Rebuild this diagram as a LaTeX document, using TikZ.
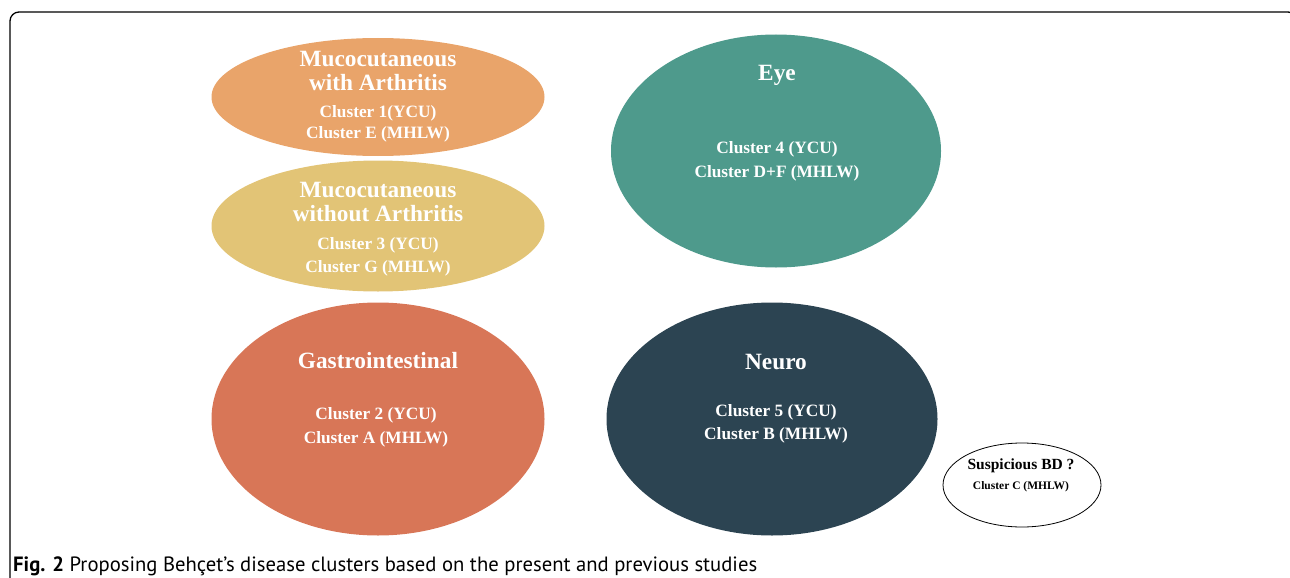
\documentclass[tikz,border=0pt]{standalone}
\usepackage{fontspec}
\setmainfont{Liberation Serif}
\newfontfamily\capfont{PT Sans}
\usetikzlibrary{shapes.geometric}
\definecolor{cOrange}{HTML}{E9A46A}
\definecolor{cYellow}{HTML}{E2C476}
\definecolor{cTeal}{HTML}{4E9A8C}
\definecolor{cGastro}{HTML}{D87657}
\definecolor{cNeuro}{HTML}{2C4452}
\tikzset{
  blob/.style={ellipse, inner sep=0pt, draw=none},
  ttl/.style={text=white, font=\bfseries\fontsize{23.3}{24}\selectfont, align=center, inner sep=0pt},
  clu/.style={text=white, font=\bfseries\fontsize{17.3}{23}\selectfont, align=center, inner sep=0pt},
}
\begin{document}
\begin{tikzpicture}[x=1pt,y=-1pt]
\useasboundingbox (0,0) rectangle (1290,578);
% frame
\draw[line width=1.3pt, rounded corners=9pt] (10,600) -- (10,12) -- (1297,12) -- (1297,60);
% ellipses
\node[blob, fill=cOrange, minimum width=333pt, minimum height=118pt] (muco1) at (378,97) {};
\node[blob, fill=cYellow, minimum width=333pt, minimum height=131pt] (muco2) at (378,226) {};
\node[blob, fill=cTeal, minimum width=330pt, minimum height=233pt] (eye) at (776,151) {};
\node[blob, fill=cGastro, minimum width=333pt, minimum height=233pt] (gastro) at (378,419) {};
\node[blob, fill=cNeuro, minimum width=331pt, minimum height=233pt] (neuro) at (772,419) {};
\node[ellipse, draw=black, line width=0.8pt, fill=white, inner sep=0pt, minimum width=158pt, minimum height=84pt] (susp) at (1022,485) {};
% texts
\node[ttl] (muco1t) at (378,71) {Mucocutaneous\\with Arthritis};
\node[clu, font=\bfseries\fontsize{17.3}{21}\selectfont] (muco1c) at (378,124) {Cluster 1(YCU)\\Cluster E (MHLW)};
\node[ttl] (muco2t) at (378,202) {Mucocutaneous\\without Arthritis};
\node[clu] (muco2c) at (378,257) {Cluster 3 (YCU)\\Cluster G (MHLW)};
\node[ttl] (eyet) at (777,75) {Eye};
\node[clu, font=\bfseries\fontsize{17.3}{24}\selectfont] (eyec) at (777,161) {Cluster 4 (YCU)\\Cluster D+F (MHLW)};
\node[ttl] (gastrot) at (378,361) {Gastrointestinal};
\node[clu, font=\bfseries\fontsize{17.3}{24}\selectfont] (gastroc) at (376,427) {Cluster 2 (YCU)\\Cluster A (MHLW)};
\node[ttl] (neurot) at (776,362) {Neuro};
\node[clu] (neuroc) at (776,424) {Cluster 5 (YCU)\\Cluster B (MHLW)};
\node[font=\bfseries\fontsize{15.5}{18}\selectfont, inner sep=0pt] (suspt) at (1021,466) {Suspicious BD ?};
\node[font=\bfseries\fontsize{11.5}{14}\selectfont, inner sep=0pt] (suspc) at (1021,487) {Cluster C (MHLW)};
% caption
\node[anchor=base west, inner sep=0pt] (cap) at (13,571) {\resizebox{744pt}{!}{\capfont\textbf{Fig. 2} Proposing Behçet’s disease clusters based on the present and previous studies}};
\end{tikzpicture}
\end{document}
